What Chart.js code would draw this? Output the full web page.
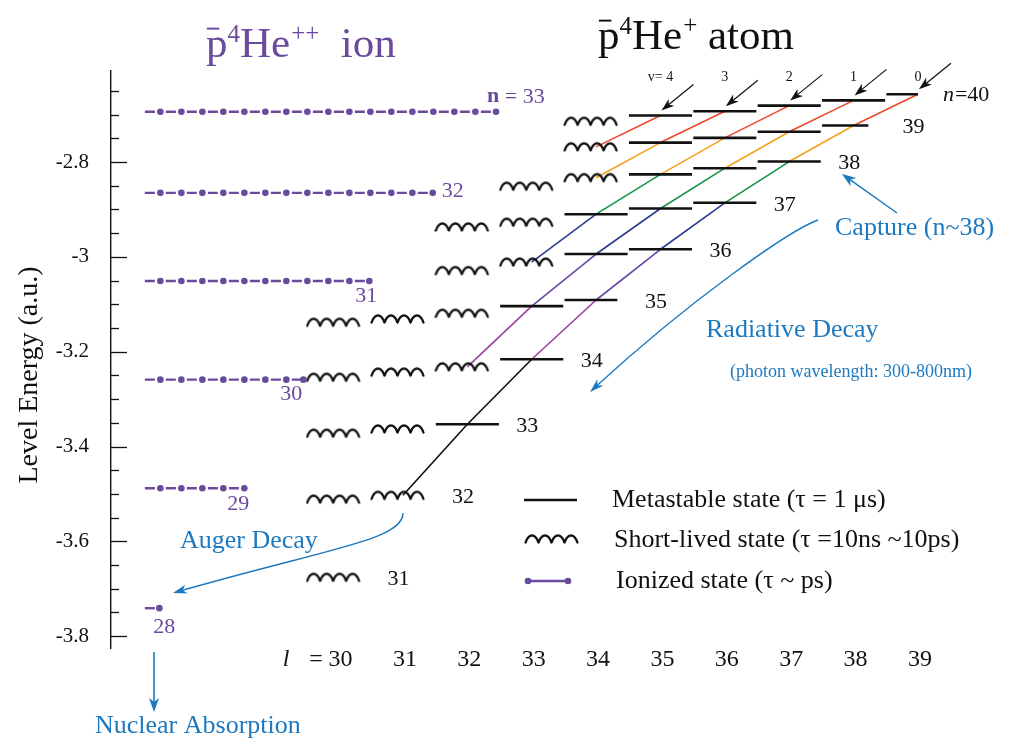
<!DOCTYPE html>
<html>
<head>
<meta charset="utf-8">
<script src="https://cdn.jsdelivr.net/npm/chart.js@4/dist/chart.umd.min.js"></script>
<style>
  html, body { margin: 0; background: #fff; }
  canvas { display: block; }
</style>
</head>
<body>
<canvas id="levels" width="1023" height="740"></canvas>
<script>
// ==================== DATA ====================
// p̄He++ ion levels (purple, ionized)
const ionN = [33, 32, 31, 30, 29, 28];
const ionE = [-2.694, -2.865, -3.051, -3.259, -3.488, -3.741];
const ionLStart = 26.99;
const ionLEnd = [32.445, 31.462, 30.477, 29.452, 28.535, 27.215];

// p̄He+ atom levels: principal n, angular momentum l, energy (a.u.), short-lived flag
const levelN = [40, 40, 40, 40, 40, 40,
                39, 39, 39, 39, 39,
                38, 38, 38, 38, 38,
                37, 37, 37, 37, 37,
                36, 36, 36, 36,
                35, 35, 35, 35, 35,
                34, 34, 34, 34,
                33, 33, 33,
                32, 32,
                31];
const levelL = [34, 35, 36, 37, 38, 39,
                34, 35, 36, 37, 38,
                33, 34, 35, 36, 37,
                32, 33, 34, 35, 36,
                32, 33, 34, 35,
                30, 31, 32, 33, 34,
                30, 31, 32, 33,
                30, 31, 32,
                30, 31,
                30];
const levelE = [-2.714, -2.702, -2.693, -2.681, -2.670, -2.657,
                -2.768, -2.759, -2.749, -2.736, -2.723,
                -2.851, -2.833, -2.826, -2.813, -2.799,
                -2.937, -2.927, -2.910, -2.898, -2.886,
                -3.029, -3.011, -2.994, -2.984,
                -3.138, -3.131, -3.119, -3.104, -3.091,
                -3.254, -3.243, -3.232, -3.216,
                -3.372, -3.363, -3.353,
                -3.511, -3.503,
                -3.676];
const levelShort = [1, 0, 0, 0, 0, 0,
                    1, 0, 0, 0, 0,
                    1, 1, 0, 0, 0,
                    1, 1, 0, 0, 0,
                    1, 1, 0, 0,
                    1, 1, 1, 0, 0,
                    1, 1, 1, 0,
                    1, 1, 0,
                    1, 1,
                    1];

const vBands = [0, 1, 2, 3, 4];
const vBandLabels = ['v= 4', '3', '2', '1', '0'];   // written above l = 35..39
const lTicks = [30, 31, 32, 33, 34, 35, 36, 37, 38, 39];
const yTicks = [-3.8, -3.6, -3.4, -3.2, -3, -2.8];

// ==================== STYLE ====================
const SERIF = '"Liberation Serif", "Times New Roman", serif';
const BLUE = '#1d79bf';
const PURPLE = '#6a4a9d';
const INK = '#111';
// colour of a radiative transition, keyed by the upper n
const transColor = { 40: '#ee4a2a', 39: '#f5a11c', 38: '#159447', 37: '#2b3d90', 36: '#6747a6', 35: '#9a3f9f', 34: INK, 33: INK };
// some v=0 bars stop short on the right
const barRight = { '40-39': 0.0, '39-38': 0.23, '35-34': 0.33 };

// wavy glyph for short-lived states
const WAVY = (() => {
  const c = document.createElement('canvas');
  c.width = 66; c.height = 14;
  const g = c.getContext('2d');
  g.strokeStyle = INK; g.lineWidth = 2.3; g.lineJoin = 'round'; g.lineCap = 'round';
  g.beginPath();
  const turns = 8 * Math.PI, k = 52 / turns, steps = 320;
  for (let i = 0; i <= steps; i++) {
    const u = turns * i / steps;
    const x = 1.5 + k * u - 1.6 * Math.sin(u);
    const y = 7 + 3.5 * Math.cos(u);
    i ? g.lineTo(x, y) : g.moveTo(x, y);
  }
  g.stroke();
  return c;
})();

// ==================== DATASETS ====================
const allIdx = levelN.map((_, i) => i);

const metaData = [];
allIdx.filter(i => !levelShort[i]).forEach(i => {
  const r = barRight[levelN[i] + '-' + levelL[i]];
  metaData.push({ x: levelL[i] - 0.49, y: levelE[i] });
  metaData.push({ x: levelL[i] + (r === undefined ? 0.49 : r), y: levelE[i] });
  metaData.push({ x: levelL[i], y: null });
});

const shortData = allIdx.filter(i => levelShort[i]).map(i => ({ x: levelL[i], y: levelE[i] }));

// Δv = 0 cascades: start at n = 40 and stop at the first short-lived level
const cascadeSets = vBands.map(v => {
  const chain = [];
  allIdx.filter(i => levelN[i] - levelL[i] - 1 === v)
    .sort((a, b) => levelN[b] - levelN[a])
    .some(i => { chain.push(i); return levelShort[i]; });
  return {
    data: chain.map(i => ({ x: levelL[i], y: levelE[i] })),
    borderColor: INK,
    borderWidth: 1.6,
    pointRadius: 0,
    segment: { borderColor: c => transColor[levelN[chain[c.p0DataIndex]]] }
  };
});

const ionSets = ionN.map((n, i) => ({
  data: [{ x: ionLStart, y: ionE[i] }, { x: ionLEnd[i], y: ionE[i] }],
  borderColor: PURPLE,
  borderWidth: 2.4,
  borderDash: [10, 11],
  pointRadius: 0
}));

// ==================== DRAW HELPERS ====================
function arrowHead(ctx, x, y, ang, len, wid, color) {
  ctx.save();
  ctx.translate(x, y);
  ctx.rotate(ang);
  ctx.fillStyle = color;
  ctx.beginPath();
  ctx.moveTo(0, 0);
  ctx.lineTo(-len, -wid / 2);
  ctx.lineTo(-len * 0.72, 0);
  ctx.lineTo(-len, wid / 2);
  ctx.closePath();
  ctx.fill();
  ctx.restore();
}

function straightArrow(ctx, x0, y0, x1, y1, color, lw, len, wid) {
  const ang = Math.atan2(y1 - y0, x1 - x0);
  ctx.save();
  ctx.strokeStyle = color; ctx.lineWidth = lw;
  ctx.beginPath();
  ctx.moveTo(x0, y0);
  ctx.lineTo(x1 - Math.cos(ang) * len * 0.7, y1 - Math.sin(ang) * len * 0.7);
  ctx.stroke();
  ctx.restore();
  arrowHead(ctx, x1, y1, ang, len, wid, color);
}

function curvedArrow(ctx, p0, p1, p2, p3, color) {
  ctx.save();
  ctx.strokeStyle = color; ctx.lineWidth = 1.4;
  ctx.beginPath();
  ctx.moveTo(p0[0], p0[1]);
  ctx.bezierCurveTo(p1[0], p1[1], p2[0], p2[1], p3[0] + (p2[0] - p3[0]) * 0.04, p3[1] + (p2[1] - p3[1]) * 0.04);
  ctx.stroke();
  ctx.restore();
  arrowHead(ctx, p3[0], p3[1], Math.atan2(p3[1] - p2[1], p3[0] - p2[0]), 14, 9, color);
}

function text(ctx, s, x, y, size, color, align, style) {
  ctx.font = (style ? style + ' ' : '') + size + 'px ' + SERIF;
  ctx.fillStyle = color;
  ctx.textAlign = align || 'left';
  ctx.textBaseline = 'middle';
  ctx.fillText(s, x, y);
  return ctx.measureText(s).width;
}

// p̄ ⁴He with charge superscript, then a word
function drawFormula(ctx, x, base, size, color, charge, word) {
  ctx.save();
  ctx.fillStyle = color; ctx.strokeStyle = color;
  ctx.textAlign = 'left'; ctx.textBaseline = 'alphabetic';
  const big = size + 'px ' + SERIF, small = Math.round(size * 0.58) + 'px ' + SERIF;
  ctx.font = big;
  const pw = ctx.measureText('p').width;
  ctx.fillText('p', x, base);
  ctx.lineWidth = size * 0.045;
  ctx.beginPath();
  ctx.moveTo(x + size * 0.02, base - size * 0.66);
  ctx.lineTo(x + pw * 0.62, base - size * 0.66);
  ctx.stroke();
  x += pw;
  ctx.font = small;
  ctx.fillText('4', x, base - size * 0.36);
  x += ctx.measureText('4').width;
  ctx.font = big;
  ctx.fillText('He', x, base);
  x += ctx.measureText('He').width + 1;
  ctx.font = small;
  ctx.fillText(charge, x, base - size * 0.38);
  x += ctx.measureText(charge).width;
  ctx.font = big;
  ctx.fillText(word, x, base);
  ctx.restore();
}

// ==================== EXTRAS PLUGIN ====================
const extras = {
  id: 'extras',
  afterDatasetsDraw(chart) {
    const ctx = chart.ctx;
    const xs = chart.scales.x, ys = chart.scales.y;
    const px = l => xs.getPixelForValue(l);
    const py = e => ys.getPixelForValue(e);
    ctx.save();

    // inward tick marks, minor every 0.05
    ctx.strokeStyle = INK; ctx.lineWidth = 1.3;
    for (let k = -76; k <= -53; k++) {
      const v = k * 0.05;
      if (v < ys.min || v > ys.max) continue;
      const y = Math.round(py(v)) + 0.5;
      ctx.beginPath();
      ctx.moveTo(chart.chartArea.left, y);
      ctx.lineTo(chart.chartArea.left + (k % 4 === 0 ? 16 : 8), y);
      ctx.stroke();
    }

    // dots on the ion levels
    ctx.fillStyle = PURPLE;
    ionN.forEach((n, i) => {
      const x0 = px(ionLStart), x1 = px(ionLEnd[i]), y = py(ionE[i]);
      for (let x = x0 + 15.5; x < x1 - 4; x += 21) {
        ctx.beginPath(); ctx.arc(x, y, 3.3, 0, Math.PI * 2); ctx.fill();
      }
      ctx.beginPath(); ctx.arc(x1, y, 3.3, 0, Math.PI * 2); ctx.fill();
    });

    // ion n labels
    const ionLabelPos = { 33: [-9, -15, 'left'], 32: [9, -2, 'left'], 31: [-3, 15, 'center'],
                          30: [-12, 15, 'center'], 29: [-6, 16, 'center'], 28: [5, 19, 'center'] };
    ionN.forEach((n, i) => {
      const [dx, dy, al] = ionLabelPos[n];
      const x = px(ionLEnd[i]) + dx, y = py(ionE[i]) + dy;
      if (n === 33) {
        const w = text(ctx, 'n', x, y, 22, PURPLE, 'left', 'bold');
        text(ctx, ' = ' + n, x + w, y, 22, PURPLE, 'left');
      } else {
        text(ctx, String(n), x, y, 22, PURPLE, al);
      }
    });

    // atom n labels next to each v = 0 level
    [...new Set(levelN)].forEach(n => {
      const i = allIdx.find(j => levelN[j] === n && levelL[j] === Math.min(n - 1, 39) ||
                                 (levelN[j] === n && levelN[j] === 31));
      const x = px(levelL[i]), y = py(levelE[i]);
      if (n === 40) {
        const w = text(ctx, 'n', x + 25, y + 1, 22, INK, 'left', 'italic');
        text(ctx, '=40', x + 26 + w, y + 1, 22, INK, 'left');
      } else {
        text(ctx, String(n), x + 49, y + 2, 22, INK, 'left');
      }
    });

    // v labels above the top row, capture arrows into n = 40
    vBandLabels.forEach((s, k) => text(ctx, s, px(35 + k), 77, 14, INK, 'center'));
    allIdx.filter(i => levelN[i] === 40 && !levelShort[i]).forEach(i => {
      const x = px(levelL[i]), y = py(levelE[i]);
      straightArrow(ctx, x + 33, y - 31, x + 1, y - 5, INK, 1.2, 13, 9);
    });

    // l axis labels
    text(ctx, 'l', 286, 660, 24, INK, 'center', 'italic');
    text(ctx, '=', 316, 660, 24, INK, 'center');
    lTicks.forEach(l => text(ctx, String(l), px(l) + 2, 660, 24, INK, 'center'));

    // y axis title
    ctx.save();
    ctx.translate(30, 375);
    ctx.rotate(-Math.PI / 2);
    text(ctx, 'Level Energy (a.u.)', 0, 0, 28, INK, 'center');
    ctx.restore();

    // titles
    drawFormula(ctx, 206, 57, 43, PURPLE, '++', '  ion');
    drawFormula(ctx, 598, 49, 43, INK, '+', ' atom');

    // process annotations
    text(ctx, 'Capture (n~38)', 835, 228, 26, BLUE, 'left');
    straightArrow(ctx, 897, 213, 842, 174, BLUE, 1.5, 14, 10);
    text(ctx, 'Radiative Decay', 706, 330, 26, BLUE, 'left');
    text(ctx, '(photon wavelength: 300-800nm)', 730, 372, 18, BLUE, 'left');
    curvedArrow(ctx, [818, 220], [790, 230], [690, 300], [590, 392], BLUE);
    text(ctx, 'Auger Decay', 180, 541, 26, BLUE, 'left');
    curvedArrow(ctx, [403, 513], [403, 540], [330, 548], [173, 593], BLUE);
    straightArrow(ctx, 154, 652, 154, 712, BLUE, 1.6, 14, 10);
    text(ctx, 'Nuclear Absorption', 95, 726, 26, BLUE, 'left');

    // legend
    ctx.strokeStyle = INK; ctx.lineWidth = 2.6;
    ctx.beginPath(); ctx.moveTo(524, 500); ctx.lineTo(577, 500); ctx.stroke();
    text(ctx, 'Metastable state (\u03c4 = 1 \u03bcs)', 612, 500, 26, INK, 'left');
    ctx.drawImage(WAVY, 524, 532);
    text(ctx, 'Short-lived state (\u03c4 =10ns ~10ps)', 614, 540, 26, INK, 'left');
    ctx.strokeStyle = PURPLE; ctx.lineWidth = 2.4;
    ctx.beginPath(); ctx.moveTo(528, 581); ctx.lineTo(568, 581); ctx.stroke();
    ctx.fillStyle = PURPLE;
    [528, 568].forEach(x => { ctx.beginPath(); ctx.arc(x, 581, 3.3, 0, Math.PI * 2); ctx.fill(); });
    text(ctx, 'Ionized state (\u03c4 ~ ps)', 616, 581, 26, INK, 'left');

    ctx.restore();
  }
};

// ==================== CHART ====================
new Chart(document.getElementById('levels'), {
  type: 'line',
  data: {
    datasets: [
      { data: metaData, borderColor: INK, borderWidth: 2.6, pointRadius: 0, spanGaps: false },
      { data: shortData, showLine: false, pointStyle: WAVY, pointRadius: 5 },
      ...cascadeSets,
      ...ionSets
    ]
  },
  options: {
    responsive: false,
    animation: false,
    layout: { padding: { top: 71, bottom: 92, left: 0, right: 13 } },
    plugins: { legend: { display: false }, tooltip: { enabled: false } },
    scales: {
      x: { type: 'linear', display: false, min: 26.464, max: 40.43 },
      y: {
        type: 'linear',
        min: -3.825,
        max: -2.608,
        afterFit: s => { s.width = 111; },
        afterBuildTicks: s => { s.ticks = yTicks.map(v => ({ value: v })); },
        grid: { display: false, drawTicks: false },
        border: { display: true, color: INK, width: 1.4 },
        ticks: {
          color: INK,
          padding: 22,
          font: { family: SERIF, size: 21 },
          callback: v => String(Math.round(v * 10) / 10)
        }
      }
    }
  },
  plugins: [extras]
});
</script>
</body>
</html>
